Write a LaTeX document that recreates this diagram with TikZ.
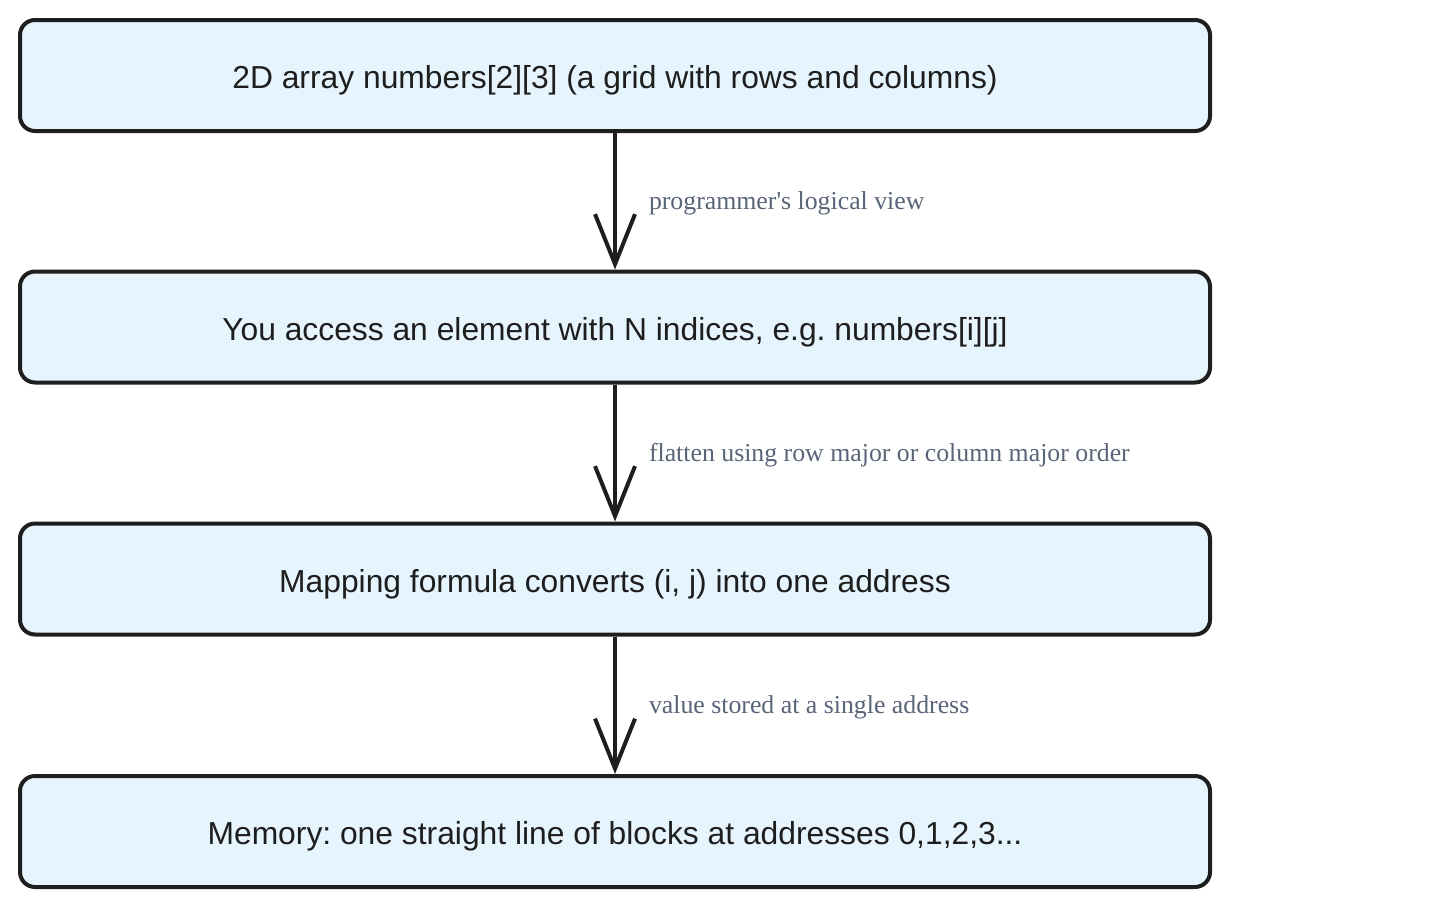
\documentclass[tikz,border=0pt]{standalone}
\usepackage{fontspec}
\setmainfont{Liberation Serif}
\newfontfamily\boxfont{Liberation Sans}
\usetikzlibrary{arrows.meta}
\frenchspacing
\definecolor{boxfill}{HTML}{E6F4FD}
\definecolor{boxline}{HTML}{1E1E1E}
\definecolor{lblcol}{HTML}{5A6478}
\tikzset{
  stepbox/.style={draw=boxline, line width=4pt, fill=boxfill, rounded corners=15pt,
    minimum width=1190pt, minimum height=111pt, inner sep=0pt,
    text height=33pt, text depth=7pt,
    font=\boxfont\fontsize{31.8pt}{36pt}\selectfont, text=boxline},
  flow/.style={draw=boxline, line width=4pt,
    -{Straight Barb[length=50pt,width=40pt,line width=4pt]}},
  lbl/.style={font=\fontsize{25.8pt}{30pt}\selectfont, text=lblcol, anchor=west, inner sep=0pt}
}
\begin{document}
\begin{tikzpicture}[x=1pt,y=-1pt]
\useasboundingbox (0,0) rectangle (1435,908);
\node[stepbox] (a) at (615,75.5) {2D array numbers[2][3] (a grid with rows and columns)};
\node[stepbox] (b) at (615,327) {You access an element with N indices, e.g. numbers[i][j]};
\node[stepbox] (c) at (615,579) {Mapping formula converts (i, j) into one address};
\node[stepbox] (d) at (615,831.5) {Memory: one straight line of blocks at addresses 0,1,2,3...};
\draw[flow] (a) -- (b) node[pos=0.5, lbl, xshift=32pt, yshift=-2pt] {programmer\textquotesingle s logical view};
\draw[flow] (b) -- (c) node[pos=0.5, lbl, xshift=32pt, yshift=-2pt] {flatten using row major or column major order};
\draw[flow] (c) -- (d) node[pos=0.5, lbl, xshift=32pt, yshift=-2pt] {value stored at a single address};
\end{tikzpicture}
\end{document}
